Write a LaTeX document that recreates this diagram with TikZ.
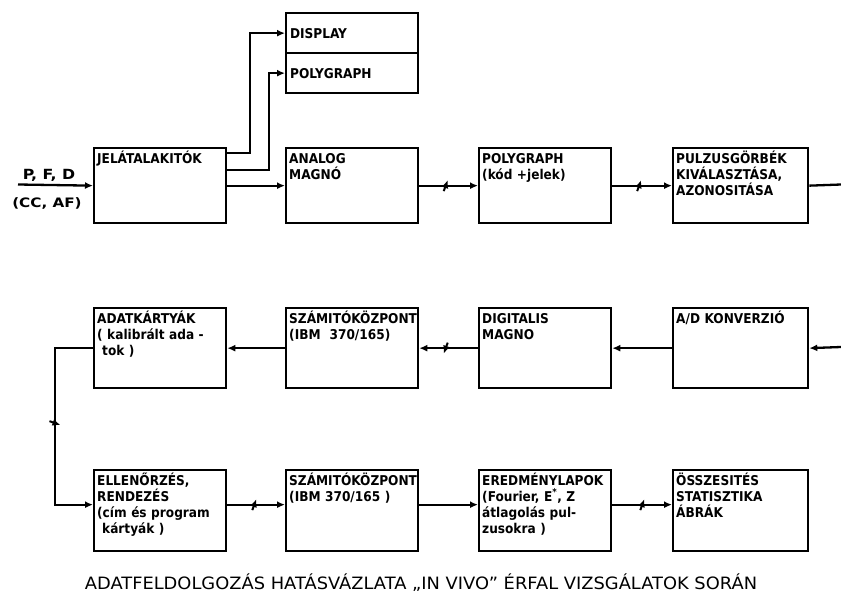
\documentclass[tikz,border=0pt]{standalone}
\usepackage{fontspec}
\setmainfont{DejaVu Sans}
\newfontfamily\boxfont{DejaVu Sans Condensed}
\usetikzlibrary{arrows.meta,decorations.markings}
\begin{document}
\begin{tikzpicture}[x=1pt,y=-1pt,
  box/.style={draw, line width=2.3pt, inner sep=0pt, anchor=north west},
  b1/.style={box, minimum width=132pt, minimum height=75pt},
  b2/.style={box, minimum width=132pt, minimum height=80pt},
  b3/.style={box, minimum width=132pt, minimum height=81pt},
  dbox/.style={box, minimum width=132pt, minimum height=40pt, text width=124pt, align=left,
    font=\boxfont\bfseries\fontsize{13.5}{15}\selectfont},
  lbl/.style={anchor=base west, text width=128pt, align=left, inner sep=0pt,
    font=\boxfont\bfseries\fontsize{13.5}{16}\selectfont},
  flow/.style={line width=2.3pt, -{Latex[length=8pt,width=7pt]}},
  plain/.style={line width=2.3pt},
  tk/.style={postaction={decorate,decoration={markings,
    mark=at position #1 with {\draw[line width=2pt] (-2pt,-5.5pt) -- (2pt,5.5pt);}}}}
]
\useasboundingbox (0,0) rectangle (841,608);

% ---- row 1
\node[b1] (jel) at (93,147) {};
\node[lbl] (jel-t) at ([shift={(4,16)}]jel.north west) {JELÁTALAKITÓK};
\node[dbox] (display) at (285,12) {DISPLAY};
\node[dbox] (poly1) at (285,52) {POLYGRAPH};
\node[b1] (analog) at (285,147) {};
\node[lbl] (analog-t) at ([shift={(4,16)}]analog.north west) {ANALOG\\MAGNÓ};
\node[b1] (poly2) at (478,147) {};
\node[lbl] (poly2-t) at ([shift={(4,16)}]poly2.north west) {POLYGRAPH\\(kód +jelek)};
\node[b1, minimum width=135pt] (pulz) at (672,147) {};
\node[lbl] (pulz-t) at ([shift={(4,16)}]pulz.north west) {PULZUSGÖRBÉK\\KIVÁLASZTÁSA,\\AZONOSITÁSA};

% ---- row 2
\node[b2] (adat) at (93,307) {};
\node[lbl] (adat-t) at ([shift={(4,16)}]adat.north west) {ADATKÁRTYÁK\\( kalibrált ada -\\\hspace*{5pt}tok )};
\node[b2] (szam1) at (285,307) {};
\node[lbl] (szam1-t) at ([shift={(4,16)}]szam1.north west) {SZÁMITÓKÖZPONT\\(IBM~~370/165)};
\node[b2] (dig) at (478,307) {};
\node[lbl] (dig-t) at ([shift={(4,16)}]dig.north west) {DIGITALIS\\MAGNO};
\node[b2, minimum width=135pt] (ad) at (672,307) {};
\node[lbl] (ad-t) at ([shift={(4,16)}]ad.north west) {A/D KONVERZIÓ};

% ---- row 3
\node[b3] (ell) at (93,469) {};
\node[lbl] (ell-t) at ([shift={(4,16)}]ell.north west) {ELLENŐRZÉS,\\RENDEZÉS\\(cím és program\\\hspace*{5pt}kártyák )};
\node[b3] (szam2) at (285,469) {};
\node[lbl] (szam2-t) at ([shift={(4,16)}]szam2.north west) {SZÁMITÓKÖZPONT\\(IBM 370/165 )};
\node[b3] (ered) at (478,469) {};
\node[lbl] (ered-t) at ([shift={(4,16)}]ered.north west) {EREDMÉNYLAPOK\\(Fourier, E\textsuperscript{*}, Z\\átlagolás pul-\\zusokra )};
\node[b3, minimum width=135pt] (ossz) at (672,469) {};
\node[lbl] (ossz-t) at ([shift={(4,16)}]ossz.north west) {ÖSSZESITÉS\\STATISZTIKA\\ÁBRÁK};

% ---- input labels
\coordinate (in1) at (18,184.5);
\node[font=\boxfont\bfseries\fontsize{14}{15}\selectfont] (pfd) at (49,175) {\scalebox{1.25}[1]{P, F, D}};
\node[font=\boxfont\bfseries\fontsize{13}{15}\selectfont] (ccaf) at (47,203) {\scalebox{1.3}[1]{(CC, AF)}};

% ---- connectors
\draw[flow] (in1) -- (jel.west);
\draw[flow] ([shift={(0,6)}]jel.north east) -- ++(23,0) |- (display.west);
\draw[flow] ([shift={(0,23)}]jel.north east) -- ++(42,0) |- (poly1.west);
\draw[flow] (jel.east) -- (analog.west);
\draw[flow, tk=0.45] (analog.east) -- (poly2.west);
\draw[flow, tk=0.45] (poly2.east) -- (pulz.west);
\coordinate (out1) at (841,184.5);
\draw[plain] (pulz.east) -- (out1);

\coordinate (in2) at (841,347);
\draw[flow] (in2) -- (ad.east);
\draw[flow] (ad.west) -- (dig.east);
\draw[flow, tk=0.55] (dig.west) -- (szam1.east);
\draw[flow] (szam1.west) -- (adat.east);
\draw[flow, tk=113pt] (adat.west) -- ++(-38,0) |- ([yshift=6pt]ell.west);

\draw[flow, tk=27pt] ([yshift=6pt]ell.east) -- ([yshift=6pt]szam2.west);
\draw[flow] ([yshift=6pt]szam2.east) -- ([yshift=6pt]ered.west);
\draw[flow, tk=30pt] ([yshift=6pt]ered.east) -- ([yshift=6pt]ossz.west);

% ---- caption
\node[font=\fontsize{17}{19}\selectfont] (cap) at (421,583) {\scalebox{1.05}[1]{ADATFELDOLGOZÁS HATÁSVÁZLATA „IN VIVO” ÉRFAL VIZSGÁLATOK SORÁN}};
\end{tikzpicture}
\end{document}
